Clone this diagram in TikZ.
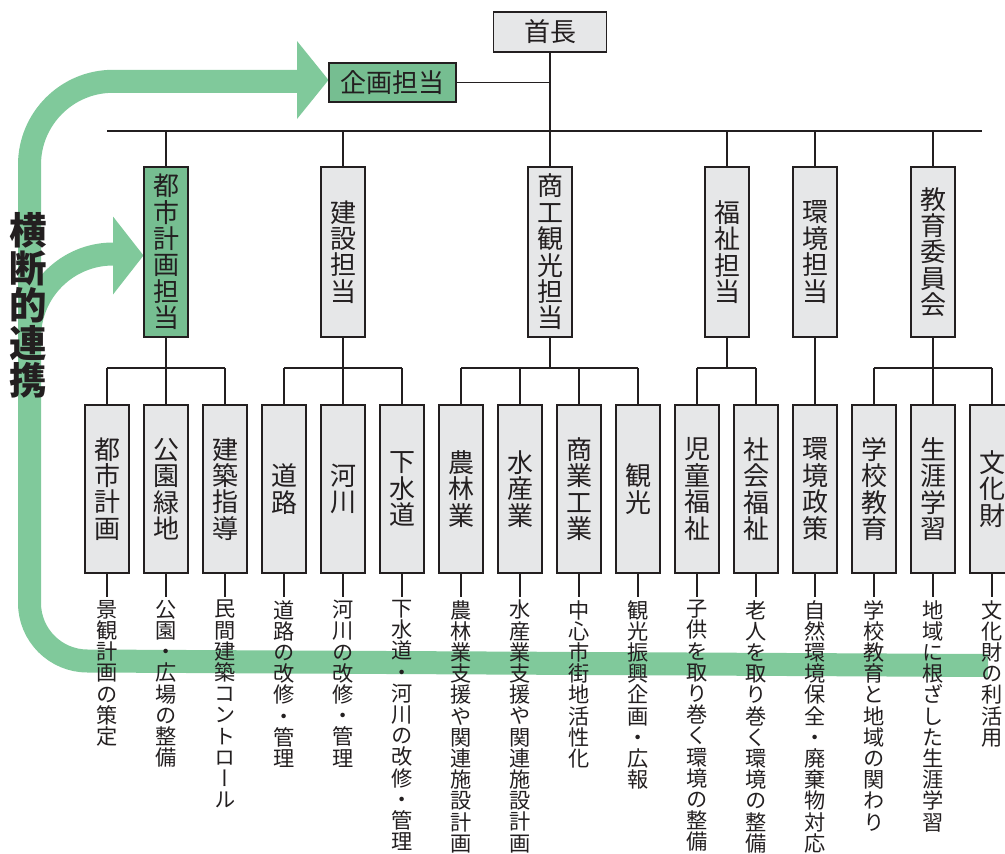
\documentclass[tikz,border=0pt]{standalone}
\usepackage{fontspec}
\setmainfont{Noto Sans CJK JP}
\newfontfamily\vfont[RawFeature=+vert]{Noto Sans CJK JP}
\usetikzlibrary{calc}
\definecolor{ink}{HTML}{231F20}
\definecolor{bandgreen}{HTML}{80C99B}
\definecolor{boxgreen}{HTML}{76BE91}
\definecolor{boxgray}{HTML}{E6E7E8}
\ExplSyntaxOn
\tl_new:N \l_my_vtxt_tl
\NewDocumentCommand \vtxt { m m }
  {
    \vtop
      {
        \baselineskip = #1 \lineskiplimit = -\maxdimen \lineskip = 0pt
        \tl_set:Nx \l_my_vtxt_tl {#2}
        \tl_map_inline:Nn \l_my_vtxt_tl { \hbox_to_wd:nn {1em} { \hss ##1 \hss } }
      }
  }
\ExplSyntaxOff
\tikzset{
  conn/.style={draw=ink, line width=1.3pt},
  basebox/.style={draw=ink, line width=1.6pt, inner sep=0pt, text=ink},
  graybox/.style={basebox, fill=boxgray},
  greenbox/.style={basebox, fill=boxgreen},
  deptbox/.style={minimum width=44pt, minimum height=170pt, font=\fontsize{26}{26}\selectfont},
  secbox/.style={minimum width=44pt, minimum height=168pt, font=\fontsize{26}{26}\selectfont},
  desc/.style={anchor=north, inner xsep=0pt, inner ysep=3pt, text=ink, font=\vfont\fontsize{21.2}{21.2}\selectfont},
  band/.style={draw=bandgreen, line width=23pt, line join=round},
  bandtip/.style={fill=bandgreen},
}
\begin{document}
\begin{tikzpicture}[x=1pt,y=-1pt]
\useasboundingbox (0,0) rectangle (1005,854);
% --- green bands (behind everything) ---
\draw[band] (298,81.3) -- (113,81.3) arc[start angle=270,end angle=180,radius=83.5]
   -- (29.5,603) arc[start angle=180,end angle=90,radius=58] -- (988,665.5);
\fill[bandtip] (297,41) -- (328.5,80) -- (297,119) -- cycle;
\draw[band] (29.5,350) -- (29.5,337.5) arc[start angle=180,end angle=270,radius=83.5] -- (114,254);
\fill[bandtip] (113,216.5) -- (143.5,255.5) -- (113,294.5) -- cycle;
\node[text=ink, inner sep=0pt, font=\bfseries\fontsize{37.5}{37.5}\selectfont] (yoko) at (28.5,305.5) {\vtxt{37.5pt}{横断的連携}};
% --- top ---
\node[graybox, minimum width=113pt, minimum height=40pt, font=\fontsize{26}{26}\selectfont] (chief) at (550,32) {首長};
\node[greenbox, minimum width=127pt, minimum height=39pt, font=\fontsize{26}{26}\selectfont] (plan) at (392.5,82.5) {企画担当};
\draw[conn] (plan.east) -- (plan.east -| chief.south);
\coordinate (busL) at (107,131);
\coordinate (busR) at (982,131);
\coordinate (sbus) at (0,368);
\draw[conn] (busL) -- (busR);
% --- departments ---
\node[greenbox, deptbox] (d1) at (166,252) {\vtxt{26.4pt}{都市計画担当}};
\node[graybox, deptbox] (d2) at (343,252) {\vtxt{26.4pt}{建設担当}};
\node[graybox, deptbox] (d3) at (550,252) {\vtxt{26.4pt}{商工観光担当}};
\node[graybox, deptbox] (d4) at (727,252) {\vtxt{26.4pt}{福祉担当}};
\node[graybox, deptbox] (d5) at (815,252) {\vtxt{26.4pt}{環境担当}};
\node[graybox, deptbox] (d6) at (933,252) {\vtxt{26.4pt}{教育委員会}};
\draw[conn] (chief.south) -- (d3.north);
\foreach \d in {d1,d2,d4,d5,d6} { \draw[conn] (\d.north) -- (\d.north |- busL); }
% --- sections ---
\foreach \i/\x/\t in {1/107/都市計画, 2/166/公園緑地, 3/225/建築指導, 4/284/道路, 5/343/河川, 6/402/下水道, 7/461/農林業, 8/520/水産業, 9/579/商業工業, 10/638/観光, 11/697/児童福祉, 12/756/社会福祉, 13/815/環境政策, 14/874/学校教育, 15/933/生涯学習, 16/992/文化財} {
  \node[graybox, secbox] (s\i) at (\x,489) {\vtxt{26.4pt}{\t}};
}
\foreach \i/\x/\t in {1/107/景観計画の策定, 2/166/公園・広場の整備, 3/225/民間建築コントロール, 4/284/道路の改修・管理, 5/343/河川の改修・管理, 6/402/下水道・河川の改修・管理, 7/461/農林業支援や関連施設計画, 8/520/水産業支援や関連施設計画, 9/579/中心市街地活性化, 10/638/観光振興企画・広報, 11/697/子供を取り巻く環境の整備, 12/756/老人を取り巻く環境の整備, 13/815/自然環境保全・廃棄物対応, 14/874/学校教育と地域の関わり, 15/933/地域に根ざした生涯学習, 16/992/文化財の利活用} {
  \node[desc] (t\i) at (\x,597) {\vtxt{21.2pt}{\t}};
  \draw[conn] (s\i.south) -- (t\i.north);
}
% --- sub-buses ---
\draw[conn] (d1.south) -- (d1.south |- sbus);
\draw[conn] (s1.north |- sbus) -- (s3.north |- sbus);
\draw[conn] (d2.south) -- (d2.south |- sbus);
\draw[conn] (s4.north |- sbus) -- (s6.north |- sbus);
\draw[conn] (d3.south) -- (d3.south |- sbus);
\draw[conn] (s7.north |- sbus) -- (s10.north |- sbus);
\draw[conn] (d4.south) -- (d4.south |- sbus);
\draw[conn] (s11.north |- sbus) -- (s12.north |- sbus);
\draw[conn] (d5.south) -- (s13.north);
\draw[conn] (d6.south) -- (d6.south |- sbus);
\draw[conn] (s14.north |- sbus) -- (s16.north |- sbus);
\foreach \i in {1,2,3,4,5,6,7,8,9,10,11,12,14,15,16} { \draw[conn] (s\i.north) -- (s\i.north |- sbus); }
\end{tikzpicture}
\end{document}
